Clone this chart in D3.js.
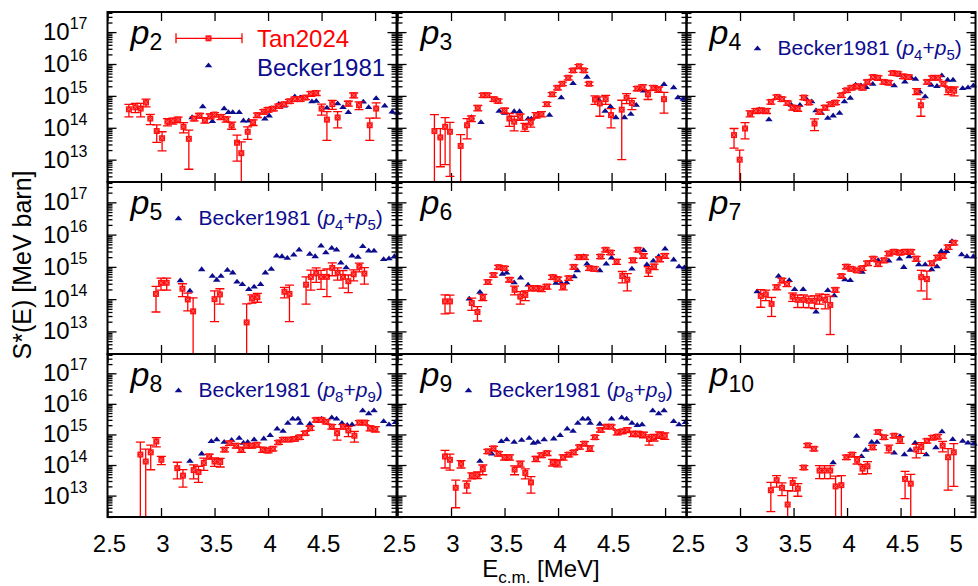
<!DOCTYPE html>
<html>
<head>
<meta charset="utf-8">
<script src="https://cdn.jsdelivr.net/npm/d3@7"></script>
<style>
  body { margin: 0; background: #fff; }
  svg { font-family: "Liberation Sans", Arial, Helvetica, sans-serif; }
</style>
</head>
<body>
<div id="chart"></div>
<script>
// tick values
var energyTicks = [2.5, 3, 3.5, 4, 4.5, 5];
var decadeTicks = [1e13, 1e14, 1e15, 1e16, 1e17];

// ---- Tan2024 : energy (MeV), S* (MeV barn), error ----
var tanE_p2 = [2.70,2.76,2.81,2.86,2.90,2.96,3.01,3.06,3.11,3.16,3.21,3.26,3.31,3.36,3.41,3.46,3.50,3.56,3.61,3.66,3.71,3.75,3.81,3.86,3.90,3.96,4.00,4.05,4.10,4.15,4.20,4.25,4.30,4.35,4.40,4.45,4.50,4.55,4.60,4.65,4.75,4.80,4.85,4.95,5.01];
var tanS_p2 = [3.8e14,4.4e14,4.0e14,6.2e14,1.95e14,7.9e13,4.7e13,1.55e14,1.66e14,1.8e14,1.07e14,4.5e13,1.95e14,2.4e14,1.74e14,2.3e14,2.6e14,2.2e14,1.86e14,1.2e14,3.4e13,1.6e13,7.5e13,1.48e14,2.5e14,3.2e14,3.7e14,4.0e14,4.8e14,5.5e14,6.8e14,7.9e14,7.9e14,8.9e14,1.17e15,1.23e15,4.0e14,1.8e14,5.5e14,2.1e14,5.8e14,1.05e15,5.1e14,1.2e14,4.0e14];
var tanErr_p2 = [1.6e14,1.4e14,1.8e14,1.7e14,0.7e14,4.4e13,2.8e13,0.4e14,0.35e14,0.35e14,0.38e14,4.0e13,0.3e14,0.4e14,0.35e14,0.4e14,0.4e14,0.4e14,0.35e14,0.3e14,2.5e13,2.0e13,3.2e13,0.3e14,0.4e14,0.5e14,0.6e14,0.6e14,0.7e14,0.8e14,1.0e14,1.2e14,1.2e14,1.3e14,0.2e15,0.2e15,1.5e14,1.4e14,1.7e14,1.1e14,1.0e14,0.18e15,1.4e14,0.8e14,2.0e14];

var tanE_p3 = [2.845,2.90,2.945,2.99,3.09,3.15,3.19,3.25,3.30,3.34,3.40,3.44,3.50,3.545,3.59,3.645,3.69,3.745,3.795,3.845,3.895,3.945,3.995,4.04,4.095,4.14,4.195,4.24,4.29,4.345,4.39,4.445,4.495,4.595,4.64,4.69,4.74,4.79,4.84,4.89,4.94,4.99];
var tanS_p3 = [7.9e13,5.0e13,1.07e14,7.5e13,2.7e13,1.2e14,1.95e14,4.2e14,1.05e15,1.05e15,7.9e14,6.9e14,3.5e14,1.95e14,1.55e14,2.2e14,1.07e14,1.45e14,2.5e14,2.7e14,5.5e14,1.12e15,1.8e15,2.4e15,3.7e15,6.3e15,8.5e15,6.3e15,2.4e15,7.7e14,5.8e14,7.9e14,2.5e14,3.7e14,8.7e14,6.0e14,1.7e15,1.9e15,1.12e15,1.8e15,1.6e15,7.9e14];
var tanErr_p3 = [1.8e14,4.4e13,1.0e14,7.2e13,3.4e13,0.75e14,0.4e14,0.8e14,0.15e15,0.15e15,1.2e14,1.0e14,0.6e14,0.85e14,0.75e14,0.5e14,0.3e14,0.4e14,0.5e14,0.5e14,0.8e14,0.15e15,0.25e15,0.3e15,0.5e15,0.8e15,1.1e15,0.8e15,0.3e15,2.3e14,3.5e14,2.5e14,1.5e14,3.6e14,3.0e14,2.3e14,0.25e15,0.3e15,0.35e15,0.3e15,0.3e15,5.0e14];

var tanE_p4 = [2.944,2.997,3.047,3.094,3.147,3.194,3.248,3.288,3.345,3.392,3.445,3.492,3.539,3.596,3.643,3.696,3.743,3.796,3.846,3.893,3.947,3.994,4.041,4.094,4.144,4.19,4.243,4.29,4.343,4.39,4.426,4.473,4.527,4.574,4.65,4.69,4.75,4.80,4.85,4.90,4.945,5.0];
var tanS_p4 = [5.9e13,1.0e13,9.5e13,2.8e14,3.4e14,3.5e14,3.4e14,6.5e14,9.3e14,7.9e14,6.0e14,4.3e14,4.0e14,8.9e14,6.2e14,1.36e14,3.2e14,4.3e14,5.5e14,6.2e14,1.05e15,1.5e15,1.8e15,2.0e15,1.8e15,2.75e15,3.9e15,3.7e15,2.75e15,2.6e15,5.2e15,5.0e15,4.1e15,3.9e15,1.4e15,5.1e14,2.75e15,3.7e15,3.7e15,2.4e15,1.5e15,1.45e15];
var tanErr_p4 = [3.6e13,1.0e13,5.0e13,0.6e14,0.6e14,0.6e14,0.6e14,1.0e14,1.3e14,1.2e14,0.9e14,0.7e14,0.7e14,1.3e14,0.9e14,0.55e14,0.5e14,0.7e14,0.8e14,0.9e14,0.15e15,0.2e15,0.25e15,0.3e15,0.25e15,0.4e15,0.6e15,0.55e15,0.4e15,0.4e15,0.7e15,0.7e15,0.6e15,0.6e15,0.3e15,2.8e14,0.4e15,0.5e15,0.5e15,0.35e15,0.4e15,0.45e15];

var tanE_p5 = [2.953,3.0,3.053,3.20,3.25,3.30,3.50,3.55,3.80,3.85,3.90,4.153,4.20,4.355,4.40,4.45,4.495,4.55,4.60,4.65,4.70,4.75,4.80,4.853,4.90];
var tanS_p5 = [1.45e14,3.2e14,3.2e14,2.1e14,9.8e13,4.2e13,1.0e14,1.4e14,1.9e13,1.05e14,1.15e14,1.7e14,1.45e14,2.8e14,4.9e14,6.3e14,4.9e14,4.9e14,9.3e14,6.6e14,4.9e14,3.6e14,5.9e14,1.0e15,6.2e14];
var tanErr_p5 = [1.05e14,1.3e14,1.3e14,0.9e14,5.5e13,6.8e13,0.8e14,0.7e14,5.2e13,0.3e14,0.35e14,0.6e14,1.25e14,2.1e14,3.0e14,3.0e14,2.9e14,3.7e14,0.4e15,2.7e14,2.7e14,2.0e14,2.2e14,0.3e15,3.3e14];

var tanE_p6 = [2.944,2.99,3.194,3.247,3.297,3.344,3.397,3.444,3.50,3.547,3.594,3.647,3.694,3.747,3.794,3.844,3.897,3.95,3.997,4.047,4.10,4.147,4.194,4.247,4.294,4.34,4.397,4.444,4.49,4.547,4.60,4.647,4.70,4.747,4.797,4.844,4.897,4.947,4.997];
var tanS_p6 = [8.5e13,8.5e13,7.6e13,4.0e13,1.15e14,3.4e14,5.6e14,9.8e14,9.1e14,4.0e14,1.95e14,1.2e14,1.35e14,2.2e14,2.2e14,2.1e14,2.45e14,4.8e14,4.2e14,2.45e14,4.5e14,1.0e15,2.0e15,2.0e15,9.1e14,8.7e14,2.1e15,3.4e15,2.8e15,1.45e15,5.2e14,4.0e14,1.6e15,3.4e15,2.2e15,7.6e14,1.02e15,1.74e15,2.2e15];
var tanErr_p6 = [5.0e13,4.8e13,3.1e13,1.9e13,0.25e14,0.55e14,0.8e14,1.3e14,1.3e14,0.6e14,0.6e14,0.5e14,0.45e14,0.4e14,0.4e14,0.4e14,0.4e14,0.7e14,0.6e14,0.5e14,0.7e14,0.15e15,0.3e15,0.3e15,1.3e14,1.3e14,0.3e15,0.5e15,0.4e15,0.25e15,2.0e14,2.2e14,0.25e15,0.5e15,0.35e15,2.5e14,0.2e15,0.3e15,0.35e15];

var tanE_p7 = [3.194,3.241,3.295,3.342,3.392,3.439,3.492,3.539,3.592,3.643,3.696,3.743,3.796,3.843,3.89,3.947,3.994,4.04,4.094,4.141,4.191,4.245,4.29,4.345,4.39,4.44,4.495,4.542,4.595,4.646,4.693,4.746,4.793,4.846,4.893,4.944,4.997];
var tanS_p7 = [1.26e14,1.4e14,7.1e13,2.35e14,3.8e14,2.95e14,1.2e14,9.5e13,9.5e13,8.9e13,8.9e13,1.07e14,9.5e13,6.6e13,1.95e14,5.2e14,1.02e15,8.7e14,7.8e14,9.1e14,1.3e15,1.8e15,1.23e15,1.6e15,2.6e15,2.95e15,2.75e15,2.95e15,2.95e15,1.8e15,4.8e14,4.2e14,1.3e15,1.95e15,2.2e15,4.1e15,5.6e15];
var tanErr_p7 = [0.7e14,0.5e14,4.2e13,0.4e14,0.6e14,0.5e14,0.35e14,4.0e13,4.0e13,3.5e13,3.8e13,3.7e13,4.5e13,5.8e13,0.3e14,0.7e14,0.15e15,1.2e14,1.1e14,1.3e14,0.2e15,0.25e15,0.2e15,0.25e15,0.4e15,0.45e15,0.4e15,0.45e15,0.45e15,0.3e15,3.0e14,3.2e14,0.2e15,0.3e15,0.35e15,0.6e15,0.8e15];

var tanE_p8 = [2.807,2.857,2.904,2.956,3.003,3.152,3.205,3.305,3.35,3.40,3.45,3.50,3.553,3.594,3.64,3.703,3.75,3.796,3.849,3.895,3.95,4.0,4.045,4.098,4.144,4.20,4.247,4.294,4.346,4.393,4.45,4.496,4.543,4.595,4.645,4.70,4.75,4.807,4.853,4.905,4.953,5.002];
var tanS_p8 = [2.2e14,1.3e14,2.6e14,5.9e14,1.48e14,7.9e13,4.5e13,6.8e13,5.9e13,1.17e14,1.9e14,1.3e14,1.26e14,3.2e14,5.2e14,4.3e14,3.2e14,4.3e14,4.3e14,4.6e14,3.2e14,3.0e14,3.4e14,5.5e14,6.8e14,6.8e14,7.1e14,8.1e14,1.1e15,1.6e15,3.0e15,3.0e15,2.6e15,1.8e15,1.1e15,1.8e15,1.35e15,9.1e14,2.45e15,2.45e15,1.6e15,1.5e15];
var tanErr_p8 = [3.4e14,2.0e14,1.9e14,2.0e14,0.45e14,4.4e13,2.6e13,3.3e13,3.2e13,0.5e14,0.35e14,0.4e14,0.4e14,0.5e14,0.8e14,0.7e14,0.6e14,0.7e14,0.7e14,0.7e14,0.6e14,0.5e14,0.5e14,0.8e14,1.0e14,1.0e14,1.0e14,1.2e14,0.16e15,0.25e15,0.45e15,0.45e15,0.4e15,0.3e15,0.45e15,0.3e15,0.5e15,3.5e14,0.4e15,0.4e15,0.3e15,0.3e15];

var tanE_p9 = [2.944,2.99,3.044,3.094,3.147,3.194,3.247,3.297,3.344,3.397,3.444,3.50,3.547,3.594,3.647,3.694,3.747,3.794,3.844,3.897,3.95,3.997,4.047,4.10,4.147,4.20,4.247,4.297,4.344,4.397,4.45,4.497,4.553,4.60,4.647,4.70,4.747,4.797,4.85,4.897,4.947,4.997];
var tanS_p9 = [1.9e14,1.48e14,1.8e13,1.1e14,2.1e13,4.5e13,4.8e13,7.4e13,2.8e14,3.5e14,2.35e14,1.8e14,1.8e14,7.1e13,1.1e14,5.5e13,2.7e13,1.6e14,2.1e14,2.45e14,1.23e14,1.17e14,1.8e14,2.2e14,2.6e14,3.9e14,5.0e14,3.5e14,8.1e14,1.4e15,1.8e15,1.8e15,1.17e15,1.26e15,1.4e15,1.05e15,1.05e15,9.8e14,7.1e14,8.1e14,9.8e14,9.1e14];
var tanErr_p9 = [1.1e14,0.8e14,1.4e13,0.3e14,0.9e13,1.0e13,1.2e13,2.6e13,0.45e14,0.55e14,0.4e14,0.35e14,0.35e14,2.3e13,0.25e14,2.0e13,1.5e13,0.3e14,0.35e14,0.4e14,0.3e14,0.3e14,0.35e14,0.35e14,0.4e14,0.6e14,0.8e14,0.7e14,1.2e14,0.2e15,0.25e15,0.25e15,0.2e15,0.2e15,0.25e15,0.2e15,0.2e15,0.2e15,2.6e14,2.0e14,2.3e14,2.2e14];

var tanE_p10 = [3.288,3.342,3.392,3.445,3.492,3.54,3.596,3.633,3.69,3.743,3.79,3.843,3.893,3.947,3.994,4.047,4.094,4.144,4.191,4.238,4.29,4.345,4.39,4.44,4.495,4.542,4.595,4.646,4.693,4.746,4.80,4.846,4.893,4.944,4.997];
var tanS_p10 = [1.5e13,3.2e13,1.8e13,5.1e12,2.6e13,1.7e13,8.3e13,4.4e14,3.4e14,6.6e13,6.6e13,6.6e13,2.0e13,2.2e13,1.8e14,2.2e14,1.48e14,7.6e13,9.1e13,3.8e14,1.2e15,8.1e14,3.5e14,9.1e14,6.8e14,3.5e13,2.45e13,3.2e14,3.9e14,6.2e14,7.9e14,8.5e14,4.3e14,1.8e14,2.6e14];
var tanErr_p10 = [1.2e13,1.3e13,0.8e13,9.5e12,1.2e13,0.75e13,1.2e13,0.6e14,0.5e14,3.0e13,3.0e13,3.0e13,2.3e13,2.3e13,0.3e14,0.35e14,0.4e14,2.6e13,3.9e13,0.6e14,0.18e15,1.2e14,1.0e14,1.3e14,1.7e14,2.7e13,2.5e13,1.5e14,1.5e14,1.0e14,1.2e14,1.3e14,1.6e14,1.65e14,2.4e14];

// ---- Becker1981 : energy (MeV), S* (MeV barn) ----
var beckE_p2 = [3.29,3.39,3.48,3.59,3.63,3.67,3.73,3.77,3.82,3.97,4.01,4.10,4.15,4.25,4.30,4.41,4.45,4.55,4.65,4.70,4.75,4.89,4.94,5.01,5.09,5.16,5.21];
var beckS_p2 = [2.2e14,4.8e14,1.66e14,4.2e14,3.2e14,3.2e14,3.2e14,1.74e14,1.74e14,2.0e14,2.5e14,5.8e14,5.1e14,1.0e15,9.3e14,6.9e14,7.2e14,4.4e14,6.0e14,4.6e14,3.2e14,6.8e14,4.6e14,8.7e14,5.1e14,3.3e14,3.0e14];

var beckE_p3 = [3.19,3.28,3.45,3.50,3.59,3.64,3.72,3.75,3.92,4.03,4.14,4.27,4.38,4.44,4.49,4.54,4.62,4.68,4.73,4.80,4.99,5.08,5.12,5.17];
var beckS_p3 = [2.2e14,1.55e14,3.5e14,3.0e14,3.4e14,3.4e14,2.0e14,2.0e14,2.6e14,9.3e14,2.6e15,4.1e15,7.8e14,3.5e14,4.8e14,2.2e14,2.2e14,2.8e14,5.4e14,1.5e15,2.4e15,1.9e15,9.3e14,8.3e14];

var beckE_p45 = [3.18,3.27,3.38,3.48,3.52,3.56,3.62,3.67,3.71,3.76,3.82,3.87,3.93,3.975,4.03,4.08,4.13,4.18,4.24,4.29,4.39,4.44,4.495,4.54,4.595,4.64,4.68,4.73,4.785,4.84,4.885,4.94,4.99,5.08,5.13,5.18];
var beckS_p45 = [3.9e14,1.9e14,8.7e14,5.4e14,4.1e14,5.4e14,8.3e14,6.9e14,3.6e14,3.0e14,2.1e14,2.5e14,3.0e14,6.9e14,8.9e14,2.3e15,2.2e15,1.95e15,2.45e15,3.5e15,2.6e15,2.2e15,4.7e15,2.9e15,4.0e15,3.5e15,1.4e15,1.0e15,2.3e15,2.1e15,4.5e15,3.3e15,3.3e15,1.8e15,1.9e15,2.2e15];

var beckE_p6 = [3.17,3.27,3.48,3.52,3.59,3.65,3.72,3.98,4.03,4.08,4.15,4.18,4.24,4.27,4.39,4.45,4.50,4.61,4.69,4.80,4.83,4.89,4.94,5.00,5.08,5.13,5.18];
var beckS_p6 = [1.07e14,1.74e14,6.3e14,6.8e14,3.4e14,4.8e14,2.9e14,3.3e14,3.3e14,3.4e14,5.2e14,8.1e14,2.2e15,1.3e15,8.1e14,1.3e15,2.0e15,5.4e14,9.1e14,3.4e15,1.23e15,1.6e15,2.2e15,3.8e15,1.74e15,1.07e15,1.0e15];

var beckE_p7 = [3.16,3.36,3.46,3.51,3.59,3.71,3.82,3.88,3.98,4.03,4.14,4.29,4.39,4.49,4.53,4.58,4.67,4.73,4.79,4.84,4.88,4.93,4.98,5.07,5.12,5.18];
var beckS_p7 = [1.8e14,5.4e14,4.0e14,2.1e14,2.1e14,4.2e13,1.95e14,1.35e14,4.2e14,4.0e14,7.2e14,1.66e15,1.6e15,1.86e15,1.02e15,2.2e15,1.23e15,1.23e15,8.7e14,1.07e15,3.2e15,3.2e15,6.5e15,2.5e15,2.2e15,2.2e15];

var beckE_p89 = [3.27,3.38,3.47,3.52,3.59,3.66,3.73,3.77,3.81,3.87,3.96,4.02,4.085,4.14,4.185,4.23,4.28,4.30,4.39,4.50,4.595,4.64,4.69,4.74,4.785,4.884,4.94,4.99,5.08,5.13,5.19];
var beckS_p89 = [1.4e14,2.45e14,6.2e14,7.1e14,5.9e14,6.8e14,7.9e14,5.5e14,5.9e14,7.1e14,7.6e14,9.8e14,1.6e15,1.35e15,2.45e15,3.4e15,3.4e15,2.45e15,2.3e15,3.4e15,3.7e15,3.4e15,2.45e15,2.1e15,2.2e15,6.3e15,5.0e15,6.3e15,2.8e15,2.2e15,2.6e15];

var beckE_p10 = [3.87,4.09,4.135,4.175,4.23,4.28,4.44,4.495,4.536,4.59,4.636,4.74,4.83,4.887,4.987,5.08,5.13,5.185];
var beckS_p10 = [1.26e14,9.3e14,2.0e14,3.2e14,5.9e14,5.9e14,2.6e14,9.1e14,2.3e14,3.2e14,5.6e14,2.3e14,3.9e14,1.3e15,7.2e14,6.3e14,5.6e14,5.2e14];

var panels = [
  {n: "2",  tan: [tanE_p2, tanS_p2, tanErr_p2],   beck: [beckE_p2, beckS_p2],   legend: "main"},
  {n: "3",  tan: [tanE_p3, tanS_p3, tanErr_p3],   beck: [beckE_p3, beckS_p3]},
  {n: "4",  tan: [tanE_p4, tanS_p4, tanErr_p4],   beck: [beckE_p45, beckS_p45], legend: ["4", "5"]},
  {n: "5",  tan: [tanE_p5, tanS_p5, tanErr_p5],   beck: [beckE_p45, beckS_p45], legend: ["4", "5"]},
  {n: "6",  tan: [tanE_p6, tanS_p6, tanErr_p6],   beck: [beckE_p6, beckS_p6]},
  {n: "7",  tan: [tanE_p7, tanS_p7, tanErr_p7],   beck: [beckE_p7, beckS_p7]},
  {n: "8",  tan: [tanE_p8, tanS_p8, tanErr_p8],   beck: [beckE_p89, beckS_p89], legend: ["8", "9"]},
  {n: "9",  tan: [tanE_p9, tanS_p9, tanErr_p9],   beck: [beckE_p89, beckS_p89], legend: ["8", "9"]},
  {n: "10", tan: [tanE_p10, tanS_p10, tanErr_p10], beck: [beckE_p10, beckS_p10]}
];

var red = "#ff0000", navy = "#0c0c8e";

var svg = d3.select("#chart").append("svg")
  .attr("width", 978).attr("height", 586);
svg.append("rect").attr("width", 978).attr("height", 586).attr("fill", "#fff");

// grid of panels
var colX = [107.5, 397.5, 686.5], panelW = 289;
var rowY = [12, 182, 354], rowH = [170, 172, 163];

var x = d3.scaleLinear().domain([2.5, 5.2]).range([0, panelW]);

function triangle(g, cx, cy) {
  g.append("path")
    .attr("d", "M" + (cx - 3.8) + "," + (cy + 2.3) + "L" + (cx + 3.8) + "," + (cy + 2.3) + "L" + cx + "," + (cy - 2.5) + "Z")
    .attr("fill", navy);
}

function redMark(g, cx, cy) {
  g.append("rect").attr("x", cx - 3).attr("y", cy - 3).attr("width", 6).attr("height", 6)
    .attr("fill", "#ff1010");
  g.append("path")
    .attr("d", "M" + (cx - 1.8) + "," + (cy - 1.8) + "L" + (cx + 1.8) + "," + (cy + 1.8) + "M" + (cx - 1.8) + "," + (cy + 1.8) + "L" + (cx + 1.8) + "," + (cy - 1.8))
    .attr("stroke", "#ff7a7a").attr("stroke-width", 0.8);
}

panels.forEach(function(p, i) {
  var col = i % 3, row = Math.floor(i / 3);
  var h = rowH[row];
  var y = d3.scaleLog().domain([1.995e12, 4.27e17]).range([h, 0]);
  var g = svg.append("g").attr("transform", "translate(" + colX[col] + "," + rowY[row] + ")");

  var minor = y.ticks().filter(function(v) { return decadeTicks.indexOf(v) < 0; });

  function tickAxis(axis, tx, ty) {
    g.append("g").attr("transform", "translate(" + tx + "," + ty + ")")
      .call(axis)
      .call(function(a) { a.select(".domain").remove(); })
      .selectAll("line").attr("stroke", "#000").attr("stroke-width", 1.3);
  }
  tickAxis(d3.axisLeft(y).tickValues(minor).tickSize(-5).tickFormat(""), 0, 0);
  tickAxis(d3.axisLeft(y).tickValues(decadeTicks).tickSize(-9).tickFormat(""), 0, 0);
  tickAxis(d3.axisRight(y).tickValues(minor).tickSize(-5).tickFormat(""), panelW, 0);
  tickAxis(d3.axisRight(y).tickValues(decadeTicks).tickSize(-9).tickFormat(""), panelW, 0);
  tickAxis(d3.axisBottom(x).tickValues(energyTicks).tickSize(-9).tickFormat(""), 0, h);
  tickAxis(d3.axisTop(x).tickValues(energyTicks).tickSize(-9).tickFormat(""), 0, 0);

  // data
  var clipId = "clip" + i;
  g.append("clipPath").attr("id", clipId)
    .append("rect").attr("x", -8).attr("y", 0).attr("width", panelW + 16).attr("height", h);
  var plot = g.append("g").attr("clip-path", "url(#" + clipId + ")");

  p.beck[0].forEach(function(e, k) {
    triangle(plot, x(e), y(p.beck[1][k]));
  });

  var tanE = p.tan[0], tanS = p.tan[1], tanErr = p.tan[2];
  tanE.forEach(function(e, k) {
    var cx = x(e);
    var hi = tanS[k] + tanErr[k], lo = tanS[k] - tanErr[k];
    var yHi = y(hi);
    var yLo = lo > y.domain()[0] ? y(lo) : h + 5;
    plot.append("line").attr("x1", cx).attr("x2", cx).attr("y1", yHi).attr("y2", yLo)
      .attr("stroke", red).attr("stroke-width", 1.3);
    [yHi, yLo].forEach(function(yy) {
      plot.append("line").attr("x1", cx - 4.5).attr("x2", cx + 4.5).attr("y1", yy).attr("y2", yy)
        .attr("stroke", red).attr("stroke-width", 1.3);
    });
    redMark(plot, cx, y(tanS[k]));
  });

  // frame
  g.append("rect").attr("width", panelW).attr("height", h)
    .attr("fill", "none").attr("stroke", "#000").attr("stroke-width", 2);

  // panel label
  var lab = g.append("text").attr("x", 23).attr("y", 32).attr("fill", "#000");
  lab.append("tspan").attr("font-size", 34).attr("font-style", "italic").text("p");
  lab.append("tspan").attr("font-size", 23).attr("dy", 6).text(p.n);

  // legends
  if (p.legend === "main") {
    var ly = 26.3;
    g.append("line").attr("x1", 68.5).attr("x2", 134.5).attr("y1", ly).attr("y2", ly)
      .attr("stroke", red).attr("stroke-width", 1.3);
    [68.5, 134.5].forEach(function(xx) {
      g.append("line").attr("x1", xx).attr("x2", xx).attr("y1", ly - 5).attr("y2", ly + 5)
        .attr("stroke", red).attr("stroke-width", 1.3);
    });
    redMark(g, 101, ly);
    g.append("text").attr("x", 149.5).attr("y", 35).attr("font-size", 24).attr("fill", red).text("Tan2024");
    triangle(g, 101, 53);
    g.append("text").attr("x", 149.5).attr("y", 64).attr("font-size", 24).attr("fill", navy).text("Becker1981");
  } else if (p.legend) {
    triangle(g, 71, 36);
    var t = g.append("text").attr("x", 91).attr("y", 43).attr("font-size", 21).attr("fill", navy);
    t.append("tspan").text("Becker1981 (");
    t.append("tspan").attr("font-style", "italic").text("p");
    t.append("tspan").attr("font-size", 15).attr("dy", 5).text(p.legend[0]);
    t.append("tspan").attr("dy", -5).text("+");
    t.append("tspan").attr("font-style", "italic").text("p");
    t.append("tspan").attr("font-size", 15).attr("dy", 5).text(p.legend[1]);
    t.append("tspan").attr("dy", -5).text(")");
  }

  // y tick labels on the left column
  if (col === 0) {
    decadeTicks.forEach(function(v) {
      var tl = g.append("text").attr("x", -20).attr("y", y(v) + 8)
        .attr("text-anchor", "end").attr("fill", "#000");
      tl.append("tspan").attr("font-size", 24).text("10");
      tl.append("tspan").attr("font-size", 16).attr("dy", -11).text(Math.round(Math.log10(v)));
    });
  }

  // x tick labels on the bottom row
  if (row === 2) {
    var labels = col === 2 ? energyTicks : energyTicks.filter(function(v) { return v < 5; });
    labels.forEach(function(v) {
      g.append("text").attr("x", x(v) + 2).attr("y", h + 35)
        .attr("text-anchor", "middle").attr("font-size", 24).attr("fill", "#000")
        .text(String(v));
    });
  }
});

// axis titles
svg.append("text")
  .attr("transform", "translate(31,265) rotate(-90)")
  .attr("text-anchor", "middle").attr("font-size", 25).attr("fill", "#000")
  .text("S*(E) [MeV barn]");

var xt = svg.append("text").attr("x", 541).attr("y", 577)
  .attr("text-anchor", "middle").attr("font-size", 24).attr("fill", "#000");
xt.append("tspan").text("E");
xt.append("tspan").attr("font-size", 17).attr("dy", 6).text("c.m.");
xt.append("tspan").attr("dy", -6).text(" [MeV]");
</script>
</body>
</html>
